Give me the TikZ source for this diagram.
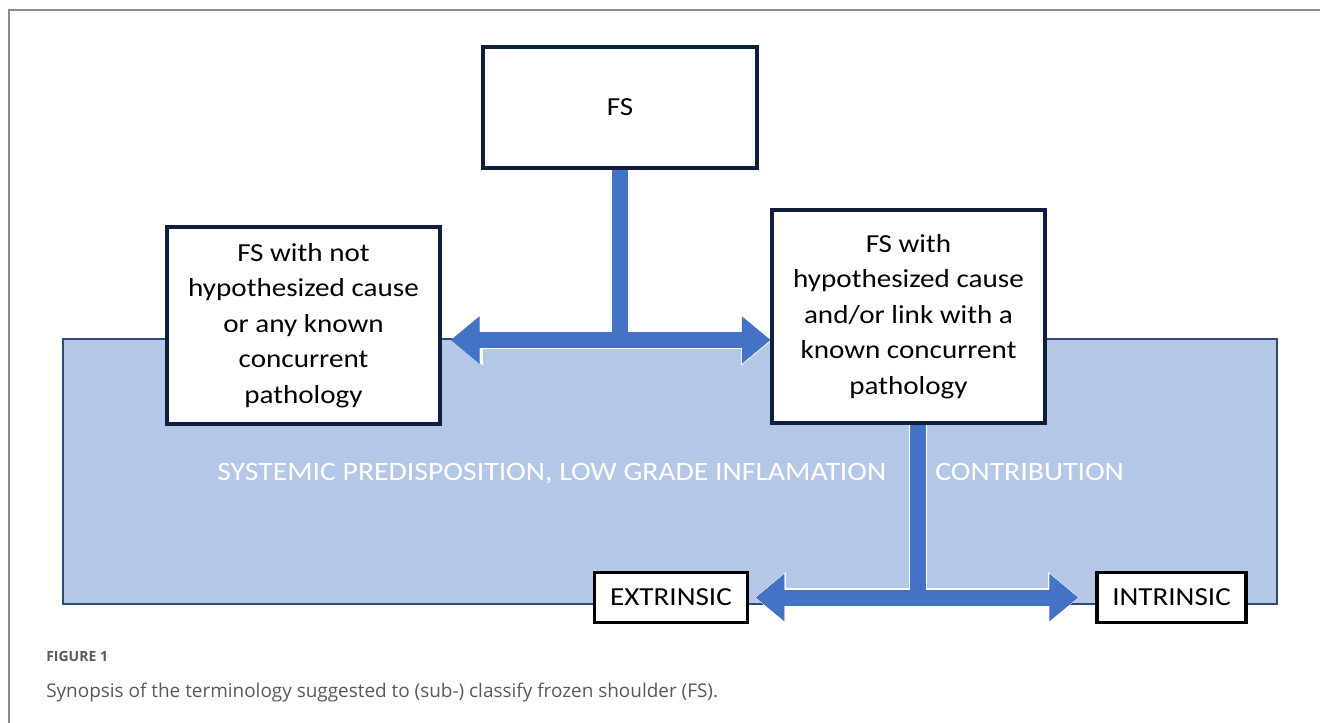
\documentclass[tikz,border=0pt]{standalone}
\usepackage{fontspec}
\setmainfont{Carlito}
\newfontfamily\boxfont[FakeStretch=1.12]{Carlito}
\newfontfamily\capfont{Open Sans}
\usetikzlibrary{arrows.meta,calc}
\definecolor{arrowblue}{HTML}{4472C4}
\definecolor{lightblue}{HTML}{B4C7E7}
\definecolor{navy}{HTML}{0F1E3C}
\definecolor{rectedge}{HTML}{2F4A7A}
\definecolor{capgray}{HTML}{595959}
\definecolor{framegray}{HTML}{8C8C8C}
\pgfdeclarelayer{bg}
\pgfsetlayers{bg,main}
\begin{document}
\begin{tikzpicture}[x=0.75pt,y=-0.75pt,
  box/.style={draw=navy, line width=2.3pt, fill=white, align=center,
    font=\boxfont\fontsize{19.5}{26.6}\selectfont, inner sep=0pt},
  smallbox/.style={draw=black, line width=2.3pt, fill=white,
    font=\boxfont\fontsize{19.5}{22}\selectfont, inner sep=0pt},
  bandtext/.style={text=white, font=\boxfont\fontsize{19.9}{22}\selectfont, inner sep=0pt},
  halo/.style={draw=white, line width=13.8pt},
  shaft/.style={draw=arrowblue, line width=12pt},
  halotips/.style={{Triangle[length=23pt,width=38pt,line width=0.5pt]}-{Triangle[length=23pt,width=38pt,line width=0.5pt]}, shorten <=-1pt, shorten >=-1pt},
  bluetips/.style={{Triangle[length=21.5pt,width=35.5pt,line width=0.5pt]}-{Triangle[length=21.5pt,width=35.5pt,line width=0.5pt]}},
  capstyle/.style={text=capgray, inner sep=0pt, anchor=base west}
]
\useasboundingbox (0,0) rectangle (1320,722);

% outer frame
\draw[framegray, line width=1.1pt] (9,730) -- (9,10) -- (1330,10);

% nodes (sizes: px * 0.75 = pt)
\node[box, minimum width=205.5pt, minimum height=90.75pt] (fs) at (620,107.5) {FS};
\node[box, minimum width=204.75pt, minimum height=147.75pt] (lbox) at (303.5,325.5)
  {FS with not\\hypothesized cause\\or any known\\concurrent\\pathology};
\node[box, minimum width=204.75pt, minimum height=159.75pt] (rbox) at (908.5,316.5)
  {FS with\\hypothesized cause\\and/or link with a\\known concurrent\\pathology};
\node[smallbox, minimum width=114.75pt, minimum height=37.5pt] (ext) at (671,597.5) {EXTRINSIC};
\node[smallbox, minimum width=111.75pt, minimum height=37.5pt] (int) at (1171.5,597.5) {INTRINSIC};

\coordinate (j1) at (611,340);
\coordinate (j2) at (918,597.5);

\begin{pgfonlayer}{bg}
  \fill[lightblue, draw=rectedge, line width=0.8pt] (63,339) rectangle (1277,604);
  \node[bandtext, anchor=base west] (sys) at (217,480) {SYSTEMIC PREDISPOSITION, LOW GRADE INFLAMATION};
  \node[bandtext, anchor=base west] (contrib) at (935,480) {CONTRIBUTION};
  % white halos
  \draw[halo] (fs.south) -- (fs.south |- j1);
  \draw[halo, halotips, shorten <=8pt] (lbox.east |- j1) -- (rbox.west |- j1);
  \draw[halo] (rbox.south -| j2) -- (j2);
  \draw[halo, halotips, shorten <=4.5pt, shorten >=12.5pt] (ext.east |- j2) -- (int.west |- j2);
  % blue arrows
  \draw[shaft] (fs.south) -- (fs.south |- j1);
  \draw[shaft, bluetips, shorten <=7pt] (lbox.east |- j1) -- (rbox.west |- j1);
  \draw[shaft] (rbox.south -| j2) -- (j2);
  \draw[shaft, bluetips, shorten <=5pt, shorten >=13pt] (ext.east |- j2) -- (int.west |- j2);
\end{pgfonlayer}

% caption
\node[capstyle, font=\capfont\bfseries\fontsize{10.5}{13}\selectfont] (figlab) at (46,661) {FIGURE 1};
\node[capstyle, font=\capfont\fontsize{14.2}{17}\selectfont] (caption) at (46,697)
  {Synopsis of the terminology suggested to (sub-) classify frozen shoulder (FS).};
\end{tikzpicture}
\end{document}
